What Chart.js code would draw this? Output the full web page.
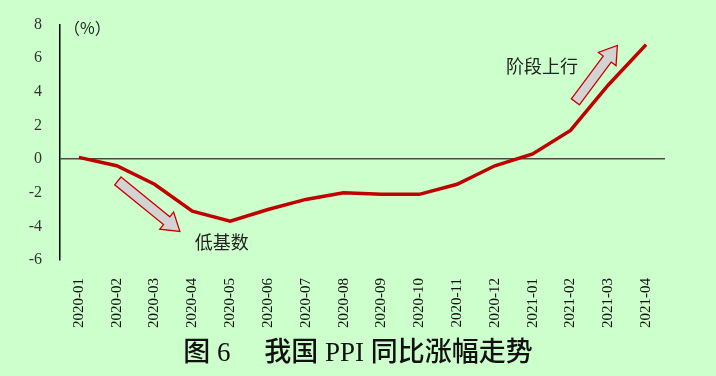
<!DOCTYPE html>
<html>
<head>
<meta charset="utf-8">
<script src="https://cdn.jsdelivr.net/npm/chart.js@4/dist/chart.umd.min.js"></script>
<style>
  html, body { margin: 0; padding: 0; background: #ccffcc; }
  #wrap { width: 716px; height: 376px; }
</style>
</head>
<body>
<div id="wrap"><canvas id="ppi"></canvas></div>
<script>
const months = ["2020-01", "2020-02", "2020-03", "2020-04", "2020-05", "2020-06", "2020-07", "2020-08",
  "2020-09", "2020-10", "2020-11", "2020-12", "2021-01", "2021-02", "2021-03", "2021-04"];
const ppiYoY = [0.1, -0.4, -1.5, -3.1, -3.7, -3.0, -2.4, -2.0, -2.1, -2.1, -1.5, -0.4, 0.3, 1.7, 4.4, 6.8];
const yTicks = [-6, -4, -2, 0, 2, 4, 6, 8];
const chartTitle = "图 6　 我国 PPI 同比涨幅走势";

// anotações (coordenadas em índice da categoria / valor)
const arrows = [
  { from: [1.03, -1.3], to: [2.67, -4.3] },
  { from: [13.13, 3.4], to: [14.24, 6.75] }
];
const notes = [
  { text: "低基数", at: [3.78, -4.95] },
  { text: "阶段上行", at: [12.25, 5.5] }
];

const bgPlugin = {
  id: "bg",
  beforeDraw(chart) {
    const c = chart.ctx;
    c.save();
    c.fillStyle = "#ccffcc";
    c.fillRect(0, 0, chart.width, chart.height);
    c.restore();
  }
};

const notesPlugin = {
  id: "notes",
  afterDatasetsDraw(chart) {
    const c = chart.ctx;
    const xs = chart.scales.x, ys = chart.scales.y;
    c.save();
    arrows.forEach(a => {
      const x1 = xs.getPixelForValue(a.from[0]), y1 = ys.getPixelForValue(a.from[1]);
      const x2 = xs.getPixelForValue(a.to[0]), y2 = ys.getPixelForValue(a.to[1]);
      const ang = Math.atan2(y2 - y1, x2 - x1);
      const len = Math.hypot(x2 - x1, y2 - y1);
      const sw = 5, hw = 11, hl = 17;
      c.translate(x1, y1);
      c.rotate(ang);
      c.beginPath();
      c.moveTo(0, -sw);
      c.lineTo(len - hl, -sw);
      c.lineTo(len - hl, -hw);
      c.lineTo(len, 0);
      c.lineTo(len - hl, hw);
      c.lineTo(len - hl, sw);
      c.lineTo(0, sw);
      c.closePath();
      c.fillStyle = "#d3d3d3";
      c.fill();
      c.strokeStyle = "#cc0000";
      c.lineWidth = 1.3;
      c.stroke();
      c.setTransform(1, 0, 0, 1, 0, 0);
    });
    c.fillStyle = "#222";
    c.font = "18px 'Noto Sans CJK SC'";
    c.textAlign = "center";
    c.textBaseline = "middle";
    notes.forEach(n => {
      c.fillText(n.text, xs.getPixelForValue(n.at[0]), ys.getPixelForValue(n.at[1]));
    });
    // unidade
    c.font = "16px 'Noto Sans CJK SC'";
    c.textAlign = "left";
    c.fillText("（%）", chart.chartArea.left + 4, chart.chartArea.top + 4);
    // título embaixo, centrado na página
    c.fillStyle = "#111";
    c.font = "500 27px 'Liberation Serif', 'Noto Sans CJK SC'";
    c.textAlign = "center";
    c.fillText(chartTitle, chart.width / 2, chart.height - 22);
    c.restore();
  }
};

new Chart(document.getElementById("ppi"), {
  type: "line",
  data: {
    labels: months,
    datasets: [{
      data: ppiYoY,
      borderColor: "#c00000",
      borderWidth: 3.5,
      pointRadius: 0,
      tension: 0,
      fill: false
    }]
  },
  options: {
    responsive: true,
    maintainAspectRatio: false,
    animation: false,
    layout: { padding: { top: 0, right: 51, left: 0, bottom: 46 } },
    scales: {
      x: {
        offset: true,
        grid: { display: false },
        border: { display: false },
        ticks: {
          color: "#111",
          maxRotation: 90,
          minRotation: 90,
          padding: 10,
          font: { family: "'Liberation Serif'", size: 15 }
        },
        afterFit: s => { s.height = 70; }
      },
      y: {
        min: -6,
        max: 8,
        afterBuildTicks: s => { s.ticks = yTicks.map(v => ({ value: v })); },
        grid: {
          drawTicks: false,
          color: ctx => ctx.tick && ctx.tick.value === 0 ? "#4a4a4a" : "rgba(0,0,0,0)",
          lineWidth: 1.5
        },
        border: { display: true, color: "#000", width: 1.5 },
        ticks: {
          color: "#333",
          padding: 18,
          font: { family: "'Liberation Serif'", size: 16, lineHeight: 0.8 }
        },
        afterFit: s => { s.width = 60; }
      }
    },
    plugins: {
      legend: { display: false },
      tooltip: { enabled: false },
      title: { display: false }
    }
  },
  plugins: [bgPlugin, notesPlugin]
});
</script>
</body>
</html>
